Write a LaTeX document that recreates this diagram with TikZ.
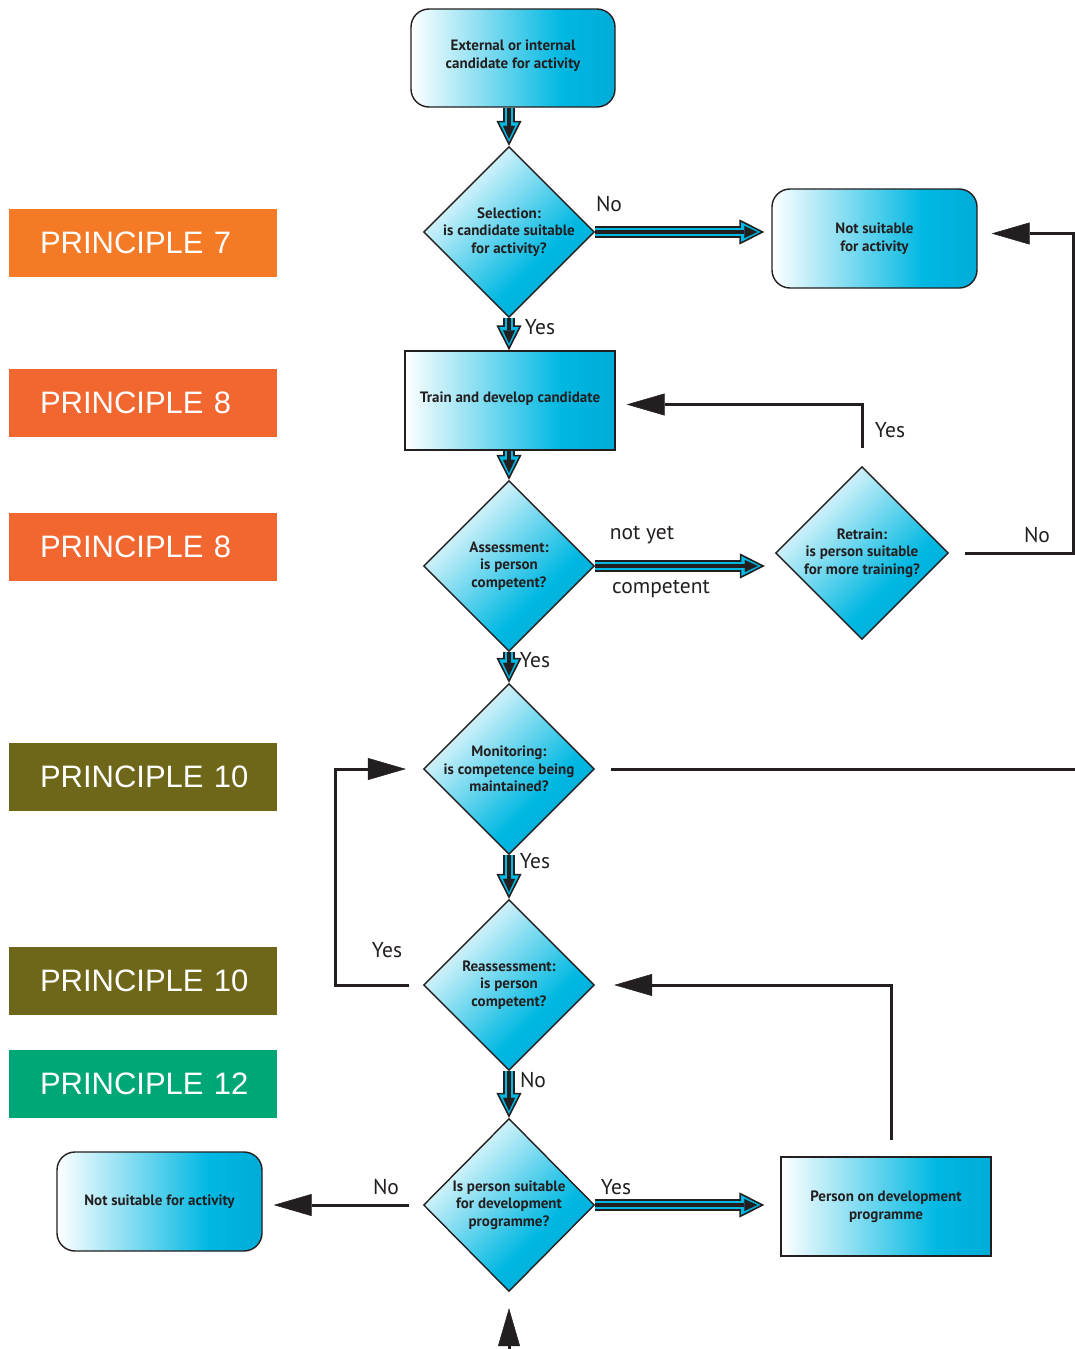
\documentclass[tikz,border=0pt]{standalone}
\usepackage{fontspec}
\setmainfont{PT Sans}
\newfontfamily\principlefont{Liberation Sans}
\usetikzlibrary{shapes,arrows.meta,calc}
\definecolor{flowcyan}{HTML}{00B8E2}
\definecolor{flowdark}{HTML}{00ACD8}
\definecolor{inkblack}{HTML}{231F20}
\definecolor{orangeseven}{HTML}{F47A26}
\definecolor{orangeeight}{HTML}{F26630}
\definecolor{oliveten}{HTML}{6E6719}
\definecolor{greentwelve}{HTML}{00A776}
\pgfdeclarehorizontalshading{cyanfade}{100bp}{color(0bp)=(white); color(25bp)=(white); color(62bp)=(flowcyan); color(75bp)=(flowdark); color(100bp)=(flowdark)}
\tikzset{principle/.style={
    fill=#1, text=white,
    minimum width=268pt, minimum height=68pt,
    text width=206pt, inner xsep=31pt, align=left,
    font=\principlefont\fontsize{31}{36}\selectfont}}
\tikzset{stepbox/.style={
    draw=inkblack, line width=1.4pt,
    shading=cyanfade,
    minimum width=210pt, minimum height=99pt,
    align=center, text=inkblack,
    font=\bfseries\fontsize{15}{17.5}\selectfont}}
\tikzset{roundbox/.style={
    stepbox,
    rounded corners=18pt,
    minimum width=205pt}}
\tikzset{question/.style={
    diamond, draw=inkblack, line width=1.4pt,
    shading=cyanfade, shading angle=-45,
    minimum width=171pt, minimum height=171pt, inner sep=-30pt,
    align=center, text=inkblack,
    font=\bfseries\fontsize{15}{17.5}\selectfont}}
\tikzset{answer/.style={
    text=inkblack, inner sep=0pt,
    font=\fontsize{21.5}{24}\selectfont}}
\tikzset{dblarrow/.style={
    draw=inkblack, line width=12pt,
    -{Triangle[length=25pt,width=25pt,line width=1.6pt,fill=flowcyan]},
    postaction={draw=flowcyan, line width=7.5pt, -, shorten >=11pt},
    postaction={draw=inkblack, line width=3.5pt, -{Triangle[length=13pt,width=12pt,line width=0.1pt]}, shorten >=7pt}}}
\tikzset{backline/.style={
    draw=inkblack, line width=3pt}}
\tikzset{backarrow/.style={
    backline,
    -{Triangle[length=38pt,width=22pt,line width=0.5pt]}}}

\begin{document}
\begin{tikzpicture}[x=1pt,y=-1pt]
\useasboundingbox (0,0) rectangle (1075,1349);

\node[principle=orangeseven] (p7) at (143,243) {PRINCIPLE~7};
\node[principle=orangeeight] (p8a) at (143,403) {PRINCIPLE~8};
\node[principle=orangeeight] (p8b) at (143,547) {PRINCIPLE~8};
\node[principle=oliveten] (p10a) at (143,777) {PRINCIPLE~10};
\node[principle=oliveten] (p10b) at (143,981) {PRINCIPLE~10};
\node[principle=greentwelve] (p12) at (143,1084) {PRINCIPLE~12};

\node[roundbox, minimum width=204pt, minimum height=98pt, text depth=8pt] (start) at (513,58) {External or internal\\candidate for activity};
\node[question] (select) at (509,232) {Selection:\\is candidate suitable\\for activity?};
\node[roundbox] (unsuitA) at (874.5,238.5) {Not suitable\\for activity};
\node[stepbox, text depth=6pt] (train) at (510,400.5) {Train and develop candidate};
\node[question] (assess) at (509,566) {Assessment:\\is person\\competent?};
\node[question, minimum width=173pt, minimum height=173pt] (retrain) at (862,553) {Retrain:\\is person suitable\\for more training?};
\node[question] (monitor) at (509,769) {Monitoring:\\is competence being\\maintained?};
\node[question] (reassess) at (509,985) {Reassessment:\\is person\\competent?};
\node[question, minimum height=173pt] (devq) at (509,1205) {Is person suitable\\for development\\programme?};
\node[stepbox] (devprog) at (886,1206.5) {Person on development\\programme};
\node[roundbox] (unsuitB) at (159.5,1201.5) {Not suitable for activity};

\coordinate (rightrail) at (1073,553);
\coordinate (monexit) at (1076,769);
\coordinate (leftrail) at (335,985);
\coordinate (bottomin) at (509,1350);

\draw[dblarrow] (start.south -| select.north) -- (select.north);
\draw[dblarrow] (select.east) -- ($(select.east -| unsuitA.west)+(-7,0)$);
\draw[dblarrow] (select.south) -- (select.south |- train.north);
\draw[dblarrow] (train.south -| assess.north) -- (assess.north);
\draw[dblarrow] (assess.east) -- ($(assess.east -| retrain.west)+(-10,0)$);
\draw[dblarrow] (assess.south) -- (monitor.north);
\draw[dblarrow] (monitor.south) -- (reassess.north);
\draw[dblarrow] (reassess.south) -- (devq.north);
\draw[dblarrow] (devq.east) -- ($(devq.east -| devprog.west)+(-16,0)$);

\draw[backarrow, shorten <=18pt, shorten >=11pt] (retrain.north) |- ([yshift=-4pt]train.east);
\draw[backarrow, shorten <=16pt, shorten >=14pt] (retrain.east) -- (rightrail) |- ([yshift=5pt]unsuitA.east);
\draw[backline, shorten <=16pt] (monitor.east) -- (monexit);
\draw[backarrow, shorten <=14pt, shorten >=17pt] (reassess.west) -- (leftrail) |- (monitor.west);
\draw[backarrow, shorten <=16pt, shorten >=19pt] ([xshift=5pt]devprog.north) |- (reassess.east);
\draw[backarrow, shorten <=14pt, shorten >=11pt] (devq.west) -- (devq.west -| unsuitB.east);
\draw[backarrow, shorten >=16pt] (bottomin) -- (devq.south);

\node[answer] (noselect) at (609,204) {No};
\node[answer] (yesselect) at (540,327) {Yes};
\node[answer] (notyet) at (642,535) {not yet};
\node[answer] (competent) at (661,589) {competent};
\node[answer] (yesretrain) at (890,430) {Yes};
\node[answer] (noretrain) at (1037,535) {No};
\node[answer] (yesassess) at (535,660) {Yes};
\node[answer] (yesmonitor) at (535,861) {Yes};
\node[answer] (yesreassess) at (387,950) {Yes};
\node[answer] (noreassess) at (533,1080) {No};
\node[answer] (nodevq) at (386,1187) {No};
\node[answer] (yesdevq) at (616,1187) {Yes};
\end{tikzpicture}
\end{document}
